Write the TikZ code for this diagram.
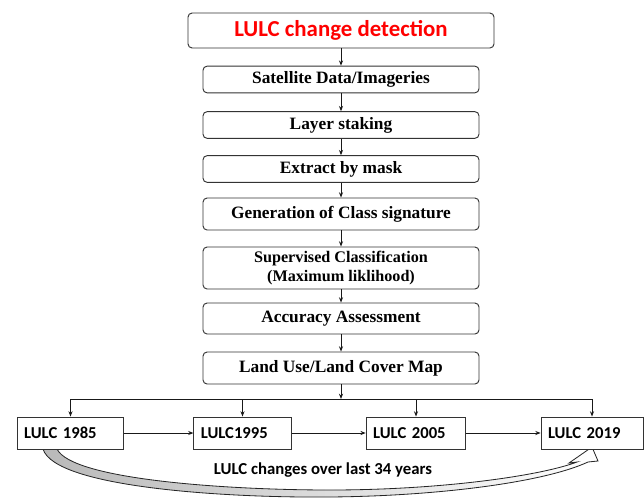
\documentclass[tikz,border=0pt]{standalone}
\usepackage{fontspec}
\setmainfont{Liberation Serif}
\newfontfamily\carlito{Carlito}
\usetikzlibrary{arrows.meta}

\begin{document}
\begin{tikzpicture}[x=0.03cm,y=-0.03cm,>={Stealth[length=4.5pt,width=3.5pt]},
		flowbox/.style={draw=black!80,line width=0.8pt,fill=white,rounded corners=3.5pt,minimum width=8.28cm,minimum height=0.8cm,inner sep=1pt,align=center,font=\fontsize{14.8}{15}\selectfont\bfseries},
		yearbox/.style={draw=black!80,line width=0.8pt,fill=white,minimum height=0.96cm,inner xsep=6pt,text width=#1,align=left,font=\carlito\fontsize{14.2}{15}\selectfont\bfseries},
		link/.style={->,draw=black!90,line width=0.8pt}]
	\useasboundingbox (0,0) rectangle (644,498);
	\shade[left color=gray!55,right color=white,draw=black!85,line width=0.7pt]
		(43,449) .. controls (55,488) and (230,498) .. (330,497) .. controls (440,496) and (545,482) .. (588,462)
		-- (598,461) -- (592,447) -- (569,463) -- (577,462)
		.. controls (540,476) and (440,490) .. (330,490) .. controls (230,490) and (72,480) .. (57,449) -- cycle;
		\node[flowbox,minimum width=9.18cm,minimum height=1.05cm,text=red,font=\carlito\fontsize{19.5}{20}\selectfont\bfseries] (title) at (341,30.5) {LULC change detection};
		\node[flowbox] (sat) at (341,79.5) {Satellite Data/Imageries};
		\node[flowbox] (layer) at (341,125) {Layer staking};
		\node[flowbox] (mask) at (341,169) {Extract by mask};
		\node[flowbox,minimum height=0.96cm] (sign) at (341,214) {Generation of Class signature};
		\node[flowbox,minimum height=1.26cm,font=\fontsize{13.8}{16}\selectfont\bfseries] (class) at (341,268) {Supervised Classification\\(Maximum liklihood)};
		\node[flowbox,minimum height=0.93cm] (acc) at (341,318.5) {Accuracy Assessment};
		\node[flowbox,minimum height=0.96cm] (map) at (341,368) {Land Use/Land Cover Map};
		\foreach \a/\b in {title/sat,sat/layer,layer/mask,mask/sign,sign/class,class/acc,acc/map}
			\draw[link] (\a) -- (\b);
		\node[yearbox=79pt] (y85) at (70.5,433) {LULC 1985};
		\node[yearbox=71pt] (y95) at (242.5,433) {LULC1995};
		\node[yearbox=73pt] (y05) at (416,433) {LULC 2005};
		\node[yearbox=75pt] (y19) at (592,433) {LULC 2019};
		\coordinate (bus) at (341,399);
		\draw[link] (map) -- (bus);
		\draw[draw=black!90,line width=0.8pt] (y85.north |- bus) -- (y19.north |- bus);
		\foreach \y in {y85,y95,y05,y19}
			\draw[link] (\y.north |- bus) -- (\y);
		\foreach \a/\b in {y85/y95,y95/y05,y05/y19}
			\draw[link] (\a) -- (\b);
		\node[font=\carlito\fontsize{14.3}{15}\selectfont\bfseries] (note) at (323,470) {LULC changes over last 34 years};
\end{tikzpicture}
\end{document}
